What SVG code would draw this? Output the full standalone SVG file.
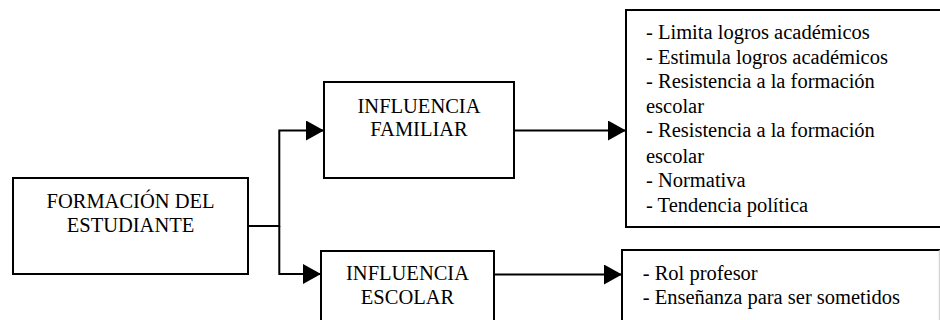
<svg xmlns="http://www.w3.org/2000/svg" width="940" height="320" viewBox="0 0 940 320">
<style>
.box{fill:#fff;stroke:#000;stroke-width:2}
.con{fill:none;stroke:#000;stroke-width:2}
text{font-family:"Liberation Serif","Times New Roman",Tinos,serif;font-size:20.5px;fill:#000}
</style>
<defs>
<marker id="arr" viewBox="0 0 18 20" refX="18" refY="10" markerWidth="18" markerHeight="20" markerUnits="userSpaceOnUse" orient="auto">
<path d="M0,0 L18,10 L0,20 Z" fill="#000"/>
</marker>
</defs>
<rect width="940" height="320" fill="#fff"/>
<g id="formacion">
<rect class="box" x="13" y="178" width="235" height="96"/>
<text x="130.5" y="208" text-anchor="middle" font-family="Liberation Serif">FORMACIÓN DEL</text>
<text x="130.5" y="232" text-anchor="middle" font-family="Liberation Serif">ESTUDIANTE</text>
</g>
<g id="familiar">
<rect class="box" x="324" y="82" width="190" height="96"/>
<text x="419" y="112.7" text-anchor="middle" font-family="Liberation Serif">INFLUENCIA</text>
<text x="419" y="135.7" text-anchor="middle" font-family="Liberation Serif">FAMILIAR</text>
</g>
<g id="escolar">
<rect class="box" x="321" y="251" width="173" height="90"/>
<text x="407.5" y="280" text-anchor="middle" font-family="Liberation Serif">INFLUENCIA</text>
<text x="407.5" y="304" text-anchor="middle" font-family="Liberation Serif">ESCOLAR</text>
</g>
<g id="familiar-list">
<rect class="box" x="626" y="10" width="340" height="217"/>
<text x="646" y="39" font-family="Liberation Serif">- Limita logros académicos</text>
<text x="646" y="63.6" font-family="Liberation Serif">- Estimula logros académicos</text>
<text x="646" y="88" font-family="Liberation Serif">- Resistencia a la formación</text>
<text x="646" y="112.5" font-family="Liberation Serif">escolar</text>
<text x="646" y="137.4" font-family="Liberation Serif">- Resistencia a la formación</text>
<text x="646" y="162.5" font-family="Liberation Serif">escolar</text>
<text x="646" y="186.5" font-family="Liberation Serif">- Normativa</text>
<text x="646" y="211.5" font-family="Liberation Serif">- Tendencia política</text>
</g>
<g id="escolar-list">
<path d="M622,330 V250 H940" fill="none" stroke="#000" stroke-width="2"/>
<line x1="939.3" y1="250" x2="939.3" y2="320" stroke="#c8c8c8" stroke-width="1"/>
<text x="642.7" y="279.5" font-family="Liberation Serif">- Rol profesor</text>
<text x="642.7" y="304" font-family="Liberation Serif">- Enseñanza para ser sometidos</text>
</g>
<g id="connectors">
<path class="con" d="M248,226 H279.3 V130.5 H324" marker-end="url(#arr)"/>
<path class="con" d="M279.3,226 V274 H321" marker-end="url(#arr)"/>
<path class="con" d="M514,130.5 H626" marker-end="url(#arr)"/>
<path class="con" d="M494,274.5 H622" marker-end="url(#arr)"/>
</g>
</svg>
